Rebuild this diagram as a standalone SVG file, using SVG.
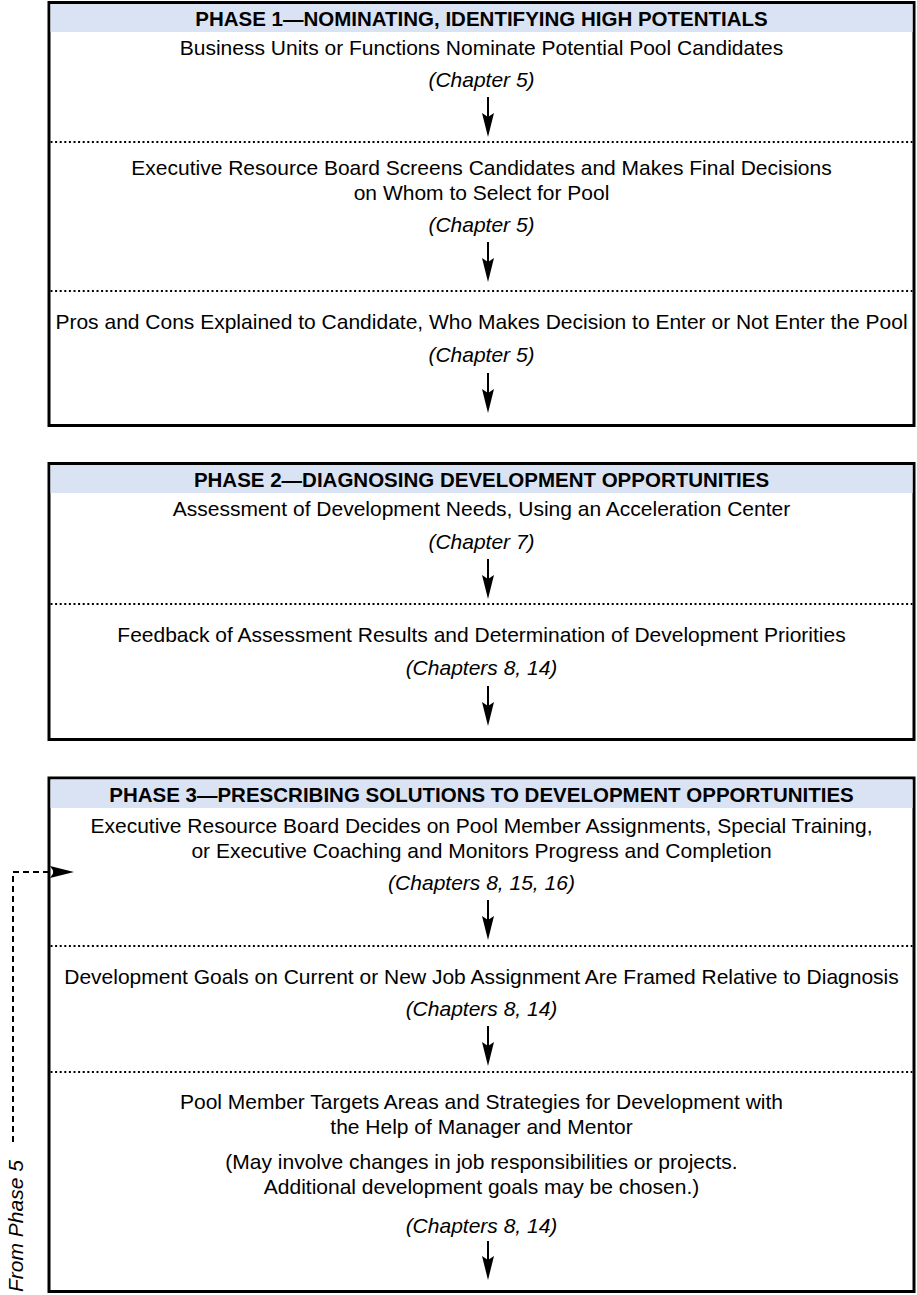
<svg xmlns="http://www.w3.org/2000/svg" width="917" height="1295" viewBox="0 0 917 1295">
<defs>
<style>
.box{fill:#ffffff;stroke:#000000;stroke-width:3}
.band{fill:#dae3f3}
.hdr{font-family:"Liberation Sans",Arial,sans-serif;font-weight:bold;font-size:20.5px;text-anchor:middle;fill:#000}
.t{font-family:"Liberation Sans",Arial,sans-serif;font-size:21px;text-anchor:middle;fill:#000}
.ch{font-family:"Liberation Sans",Arial,sans-serif;font-size:21px;font-style:italic;text-anchor:middle;fill:#000}
.dot{stroke:#000;stroke-width:2;stroke-dasharray:2 2.6;fill:none}
.arr{stroke:#000;stroke-width:2;fill:none;marker-end:url(#ah)}
.dash{stroke:#000;stroke-width:2;stroke-dasharray:6 4;fill:none;marker-end:url(#ah)}
.side{font-family:"Liberation Sans",Arial,sans-serif;font-size:21px;font-style:italic;fill:#000}
</style>
<marker id="ah" viewBox="0 0 24 12" refX="14" refY="6" markerWidth="24" markerHeight="12" markerUnits="userSpaceOnUse" orient="auto">
<path d="M0,0 L24,6 L0,12 L4,6 Z" fill="#000"/>
</marker>
</defs>
<rect width="917" height="1295" fill="#ffffff"/>

<g id="phase1">
<rect class="box" x="49" y="2.5" width="865" height="423"/>
<rect class="band" x="50.5" y="4" width="862" height="28"/>
<text class="hdr" x="481.5" y="25.5">PHASE 1—NOMINATING, IDENTIFYING HIGH POTENTIALS</text>
<g id="p1s1">
<text class="t" x="481.5" y="54.5">Business Units or Functions Nominate Potential Pool Candidates</text>
<text class="ch" x="481.5" y="87">(Chapter 5)</text>
</g>
<line class="dot" x1="50.5" y1="142" x2="912.5" y2="142"/>
<g id="p1s2">
<text class="t" x="481.5" y="174.5">Executive Resource Board Screens Candidates and Makes Final Decisions</text>
<text class="t" x="481.5" y="199.5">on Whom to Select for Pool</text>
<text class="ch" x="481.5" y="232">(Chapter 5)</text>
</g>
<line class="dot" x1="50.5" y1="291" x2="912.5" y2="291"/>
<g id="p1s3">
<text class="t" x="481.5" y="328.5">Pros and Cons Explained to Candidate, Who Makes Decision to Enter or Not Enter the Pool</text>
<text class="ch" x="481.5" y="362">(Chapter 5)</text>
</g>
</g>

<g id="phase2">
<rect class="box" x="49" y="463.5" width="865" height="276"/>
<rect class="band" x="50.5" y="465" width="862" height="28"/>
<text class="hdr" x="481.5" y="486.5">PHASE 2—DIAGNOSING DEVELOPMENT OPPORTUNITIES</text>
<g id="p2s1">
<text class="t" x="481.5" y="516">Assessment of Development Needs, Using an Acceleration Center</text>
<text class="ch" x="481.5" y="548.5">(Chapter 7)</text>
</g>
<line class="dot" x1="50.5" y1="604" x2="912.5" y2="604"/>
<g id="p2s2">
<text class="t" x="481.5" y="641.5">Feedback of Assessment Results and Determination of Development Priorities</text>
<text class="ch" x="481.5" y="675">(Chapters 8, 14)</text>
</g>
</g>

<g id="phase3">
<rect class="box" x="49" y="778" width="865" height="513.5"/>
<rect class="band" x="50.5" y="779.5" width="862" height="28.5"/>
<text class="hdr" x="481.5" y="801.5">PHASE 3—PRESCRIBING SOLUTIONS TO DEVELOPMENT OPPORTUNITIES</text>
<g id="p3s1">
<text class="t" x="481.5" y="832.5">Executive Resource Board Decides on Pool Member Assignments, Special Training,</text>
<text class="t" x="481.5" y="857.5">or Executive Coaching and Monitors Progress and Completion</text>
<text class="ch" x="481.5" y="890">(Chapters 8, 15, 16)</text>
</g>
<line class="dot" x1="50.5" y1="946" x2="912.5" y2="946"/>
<g id="p3s2">
<text class="t" x="481.5" y="983.5">Development Goals on Current or New Job Assignment Are Framed Relative to Diagnosis</text>
<text class="ch" x="481.5" y="1016">(Chapters 8, 14)</text>
</g>
<line class="dot" x1="50.5" y1="1072" x2="912.5" y2="1072"/>
<g id="p3s3">
<text class="t" x="481.5" y="1109">Pool Member Targets Areas and Strategies for Development with</text>
<text class="t" x="481.5" y="1134">the Help of Manager and Mentor</text>
<text class="t" x="481.5" y="1169">(May involve changes in job responsibilities or projects.</text>
<text class="t" x="481.5" y="1194">Additional development goals may be chosen.)</text>
<text class="ch" x="481.5" y="1233">(Chapters 8, 14)</text>
</g>
</g>

<g id="from-phase5">
<text class="side" x="23" y="1292" transform="rotate(-90 23 1292)">From Phase 5</text>
</g>

<g id="connectors">
<line class="arr" x1="488" y1="97" x2="488" y2="127"/>
<line class="arr" x1="488" y1="242" x2="488" y2="272"/>
<line class="arr" x1="488" y1="373" x2="488" y2="403"/>
<line class="arr" x1="488" y1="559" x2="488" y2="589"/>
<line class="arr" x1="488" y1="686" x2="488" y2="716"/>
<line class="arr" x1="488" y1="900" x2="488" y2="930"/>
<line class="arr" x1="488" y1="1026" x2="488" y2="1056"/>
<line class="arr" x1="488" y1="1241" x2="488" y2="1270"/>
<path class="dash" d="M13,1142 L13,872 L64,872"/>
</g>
</svg>
